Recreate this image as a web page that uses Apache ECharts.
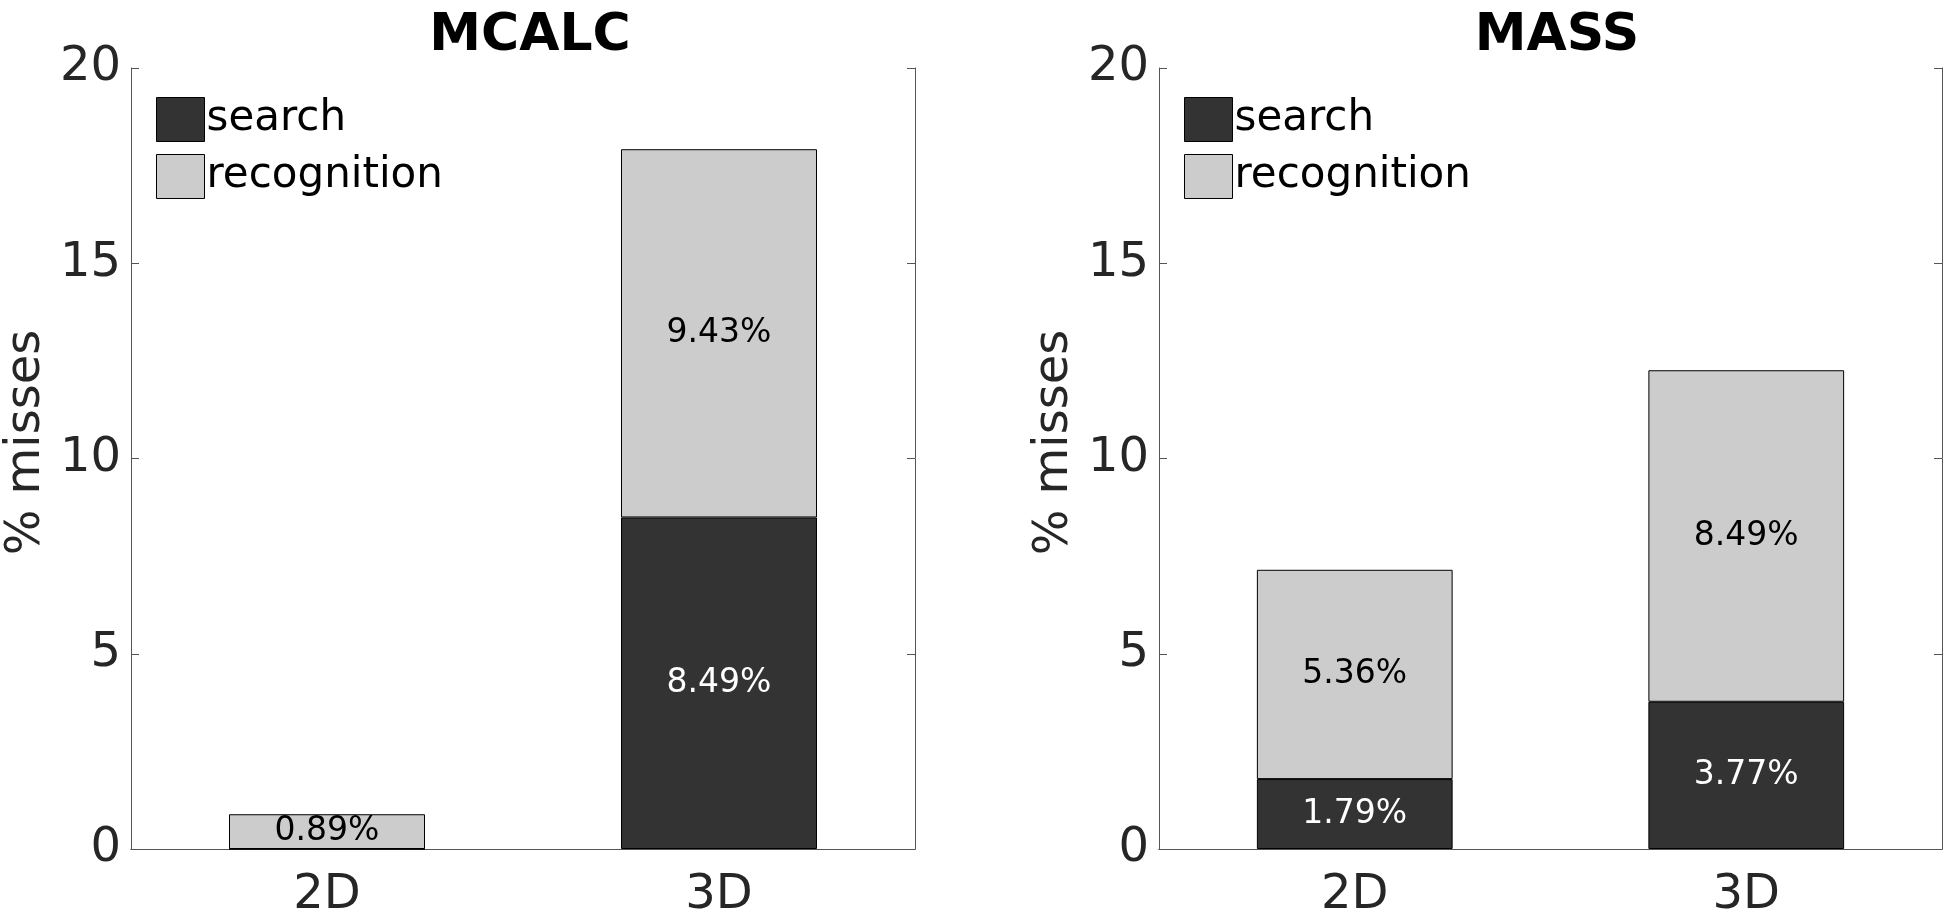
<!DOCTYPE html>
<html>
<head>
<meta charset="utf-8">
<title>MCALC / MASS misses</title>
<script src="https://cdn.jsdelivr.net/npm/echarts@6/dist/echarts.min.js"></script>
<style>
  html, body { margin: 0; padding: 0; background: #fff; }
  #chart { width: 1950px; height: 920px; }
</style>
</head>
<body>
<div id="chart"></div>
<script>
// data (% misses)
const categories = ['2D', '3D']
const panelTitles = ['MCALC', 'MASS']
const mcalcSearch = [0, 8.49]
const mcalcRecognition = [0.89, 9.43]
const massSearch = [1.79, 3.77]
const massRecognition = [5.36, 8.49]
const yTicks = [0, 5, 10, 15, 20]

const FONT = 'DejaVu Sans'
const DARK = '#333333'
const LIGHT = '#cccccc'
const AXIS = '#555'

const grids = [
  { left: 131, right: 1035, top: 68, bottom: 70 },
  { left: 1159, right: 8, top: 68, bottom: 70 }
]

const chart = echarts.init(document.getElementById('chart'))

const pct = p => (p.value > 0 ? p.value.toFixed(2) + '%' : '')

const xAxes = []
const yAxes = []
grids.forEach((g, i) => {
  // bottom axis with labels
  xAxes.push({
    gridIndex: i, type: 'category', data: categories, position: 'bottom',
    axisLine: { lineStyle: { color: AXIS, width: 1 } },
    axisTick: { inside: true, alignWithLabel: true, length: 8, lineStyle: { color: AXIS } },
    axisLabel: { fontFamily: FONT, fontSize: 48, color: '#262626', margin: 23 }
  })
  // mirrored top axis (box)
  xAxes.push({
    gridIndex: i, type: 'category', data: categories, position: 'top',
    axisLine: { lineStyle: { color: AXIS, width: 1 } },
    axisTick: { inside: true, alignWithLabel: true, length: 8, lineStyle: { color: AXIS } },
    axisLabel: { show: false }
  })
  yAxes.push({
    gridIndex: i, type: 'value', min: yTicks[0], max: yTicks[yTicks.length - 1], interval: 5,
    position: 'left',
    name: '% misses', nameLocation: 'middle', nameGap: 80,
    nameTextStyle: { fontFamily: FONT, fontSize: 48, color: '#262626', padding: [0, 0, 0, 32] },
    axisLine: { show: true, lineStyle: { color: AXIS, width: 1 } },
    axisTick: { show: true, inside: true, length: 8, lineStyle: { color: AXIS } },
    axisLabel: { fontFamily: FONT, fontSize: 48, color: '#262626', margin: 10 },
    splitLine: { show: false }
  })
  yAxes.push({
    gridIndex: i, type: 'value', min: yTicks[0], max: yTicks[yTicks.length - 1], interval: 5,
    position: 'right',
    axisLine: { show: true, lineStyle: { color: AXIS, width: 1 } },
    axisTick: { show: true, inside: true, length: 8, lineStyle: { color: AXIS } },
    axisLabel: { show: false },
    splitLine: { show: false }
  })
})

const makeSeries = (name, values, gi, color, labelColor) => ({
  name,
  type: 'bar',
  stack: 'panel' + gi,
  xAxisIndex: gi * 2,
  yAxisIndex: gi * 2,
  barWidth: '50%',
  data: values,
  itemStyle: { color, borderColor: '#000', borderWidth: 1 },
  label: {
    show: true, position: 'inside', formatter: pct,
    fontFamily: FONT, fontSize: 33, color: labelColor
  },
  emphasis: { disabled: true }
})

const legendData = [
  { name: 'search', itemStyle: { color: DARK, borderColor: '#000', borderWidth: 1 } },
  { name: 'recognition', itemStyle: { color: LIGHT, borderColor: '#000', borderWidth: 1 } }
]

const option = {
  backgroundColor: '#fff',
  animation: false,
  title: panelTitles.map((t, i) => ({
    text: t,
    left: i === 0 ? 525 : 1552,
    top: 5,
    textAlign: 'center',
    textStyle: { fontFamily: FONT, fontSize: 52, fontWeight: 'bold', color: '#000' }
  })),
  legend: grids.map(g => ({
    orient: 'vertical',
    left: g.left + 20,
    top: 92,
    itemWidth: 48,
    itemHeight: 44,
    itemGap: 12,
    icon: 'rect',
    selectedMode: false,
    data: legendData,
    textStyle: { fontFamily: FONT, fontSize: 42, color: '#000', padding: [0, 0, 0, -3] }
  })),
  grid: grids,
  xAxis: xAxes,
  yAxis: yAxes,
  series: [
    makeSeries('search', mcalcSearch, 0, DARK, '#fff'),
    makeSeries('recognition', mcalcRecognition, 0, LIGHT, '#000'),
    makeSeries('search', massSearch, 1, DARK, '#fff'),
    makeSeries('recognition', massRecognition, 1, LIGHT, '#000')
  ]
}

chart.setOption(option)
</script>
</body>
</html>
